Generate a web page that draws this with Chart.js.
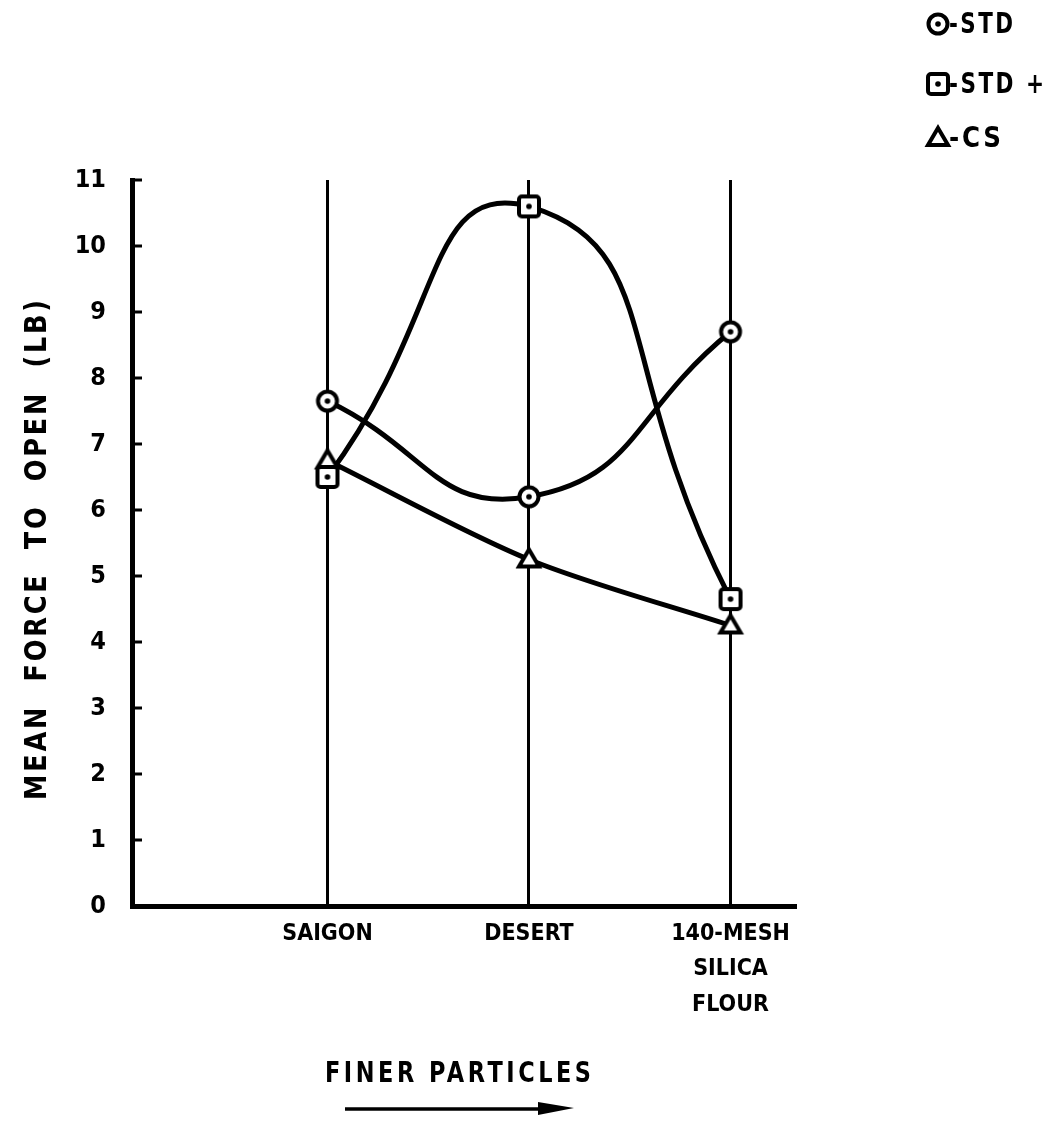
<!DOCTYPE html>
<html>
<head>
<meta charset="utf-8">
<script src="https://cdn.jsdelivr.net/npm/chart.js@4.4.1/dist/chart.umd.min.js"></script>
<style>
  html, body { margin: 0; padding: 0; background: #fff; }
  #wrap { width: 1050px; height: 1123px; }
</style>
</head>
<body>
<div id="wrap"><canvas id="chart"></canvas></div>
<script>
// values
const CATEGORIES = [['SAIGON'], ['DESERT'], ['140-MESH', 'SILICA', 'FLOUR']];
const STD      = [7.65, 6.2, 8.7];
const STD_PLUS = [6.5, 10.6, 4.65];
const CS       = [6.75, 5.25, 4.25];
const Y_TICKS  = [0, 1, 2, 3, 4, 5, 6, 7, 8, 9, 10, 11];
const SERIES_NAMES = ['-STD', '-STD +', '-CS'];
const MARKERS = ['circle', 'square', 'triangle'];

const FONT = "'DejaVu Sans Condensed', 'DejaVu Sans', sans-serif";

function makeMarker(kind) {
    const s = 30;
    const c = document.createElement('canvas');
    c.width = c.height = s;
    const g = c.getContext('2d');
    g.lineWidth = 4;
    g.strokeStyle = '#000';
    g.fillStyle = '#fff';
    g.beginPath();
    if (kind === 'circle') {
        g.arc(s / 2, s / 2, 9.5, 0, Math.PI * 2);
    } else if (kind === 'square') {
        g.roundRect(5, 5, 20, 20, 3);
    } else {
        g.moveTo(s / 2, 5);
        g.lineTo(s - 5, s - 8);
        g.lineTo(5, s - 8);
        g.closePath();
    }
    g.fill();
    g.stroke();
    if (kind !== 'triangle') {
        g.fillStyle = '#000';
        g.beginPath();
        g.arc(s / 2, s / 2, 2.8, 0, Math.PI * 2);
        g.fill();
    }
    return c;
}

const markerImgs = MARKERS.map(makeMarker);
const toPoints = vals => vals.map((v, i) => ({ x: i + 1, y: v }));

function lineSet(vals, tension) {
    return {
        data: toPoints(vals),
        borderColor: '#000',
        borderWidth: 5,
        tension: tension,
        pointRadius: 0,
        order: 2,
    };
}
function pointSet(vals, img) {
    return {
        data: toPoints(vals),
        showLine: false,
        pointStyle: img,
        pointRadius: 11,
        order: 1,
    };
}

// draws text squeezed horizontally so it covers the given width
function narrowText(ctx, text, x, y, size, width, spacing, align) {
    ctx.save();
    ctx.font = 'bold ' + size + 'px ' + FONT;
    ctx.letterSpacing = spacing + 'px';
    ctx.textBaseline = 'middle';
    ctx.textAlign = 'left';
    const w = ctx.measureText(text).width - spacing;
    const sx = width / w;
    const left = align === 'center' ? x - width / 2 : x;
    ctx.translate(left, y);
    ctx.scale(sx, 1);
    ctx.fillText(text, 0, 0);
    ctx.restore();
}

const decorations = {
    id: 'decorations',
    afterDraw(chart) {
        const { ctx, scales: { y }, chartArea } = chart;
        ctx.save();
        ctx.strokeStyle = '#000';
        ctx.fillStyle = '#000';

        // inward tick marks on the y axis
        ctx.lineWidth = 3;
        Y_TICKS.slice(1).forEach(v => {
            const py = y.getPixelForValue(v);
            ctx.beginPath();
            ctx.moveTo(chartArea.left, py);
            ctx.lineTo(chartArea.left + 10, py);
            ctx.stroke();
        });

        // y title
        ctx.save();
        ctx.translate(38, 550);
        ctx.rotate(-Math.PI / 2);
        narrowText(ctx, 'MEAN  FORCE  TO  OPEN  (LB)', 0, 0, 31, 500, 3, 'center');
        ctx.restore();

        // x title and arrow
        narrowText(ctx, 'FINER PARTICLES', 458, 1075, 28, 266, 4, 'center');
        ctx.lineWidth = 3.5;
        ctx.beginPath();
        ctx.moveTo(345, 1109);
        ctx.lineTo(545, 1109);
        ctx.stroke();
        ctx.beginPath();
        ctx.moveTo(538, 1102);
        ctx.lineTo(574, 1108);
        ctx.lineTo(538, 1115);
        ctx.closePath();
        ctx.fill();

        // legend
        const rows = [24, 84, 138];
        const widths = [64, 95, 52];
        SERIES_NAMES.forEach((name, i) => {
            ctx.drawImage(markerImgs[i], 938 - 15, rows[i] - 15);
            narrowText(ctx, name, 949, rows[i] + 1, 29, widths[i], 3, 'left');
        });
        ctx.restore();
    },
};

new Chart(document.getElementById('chart'), {
    type: 'line',
    data: {
        datasets: [
            pointSet(STD, markerImgs[0]),
            pointSet(STD_PLUS, markerImgs[1]),
            pointSet(CS, markerImgs[2]),
            lineSet(STD, 0.5),
            lineSet(STD_PLUS, 0.6),
            lineSet(CS, 0.3),
        ],
    },
    options: {
        responsive: true,
        maintainAspectRatio: false,
        animation: false,
        layout: { padding: { top: 180, right: 255, bottom: 0, left: 0 } },
        plugins: { legend: { display: false }, tooltip: { enabled: false } },
        scales: {
            x: {
                type: 'linear',
                min: 0.03,
                max: 3.32,
                afterBuildTicks: axis => { axis.ticks = CATEGORIES.map((c, i) => ({ value: i + 1 })); },
                afterFit: axis => { axis.height = 217; },
                grid: { color: '#000', lineWidth: 3, drawTicks: false },
                border: { color: '#000', width: 5 },
                ticks: {
                    callback: v => CATEGORIES[v - 1],
                    color: '#000',
                    padding: 10,
                    maxRotation: 0,
                    autoSkip: false,
                    font: { family: FONT, size: 23, weight: 'bold', lineHeight: 1.55 },
                },
            },
            y: {
                min: 0,
                max: 11,
                afterBuildTicks: axis => { axis.ticks = Y_TICKS.map(v => ({ value: v })); },
                afterFit: axis => { axis.width = 132; },
                grid: { display: false, drawTicks: false },
                border: { color: '#000', width: 5 },
                ticks: {
                    color: '#000',
                    padding: 26,
                    font: { family: FONT, size: 25, weight: 'bold' },
                },
            },
        },
    },
    plugins: [decorations],
});
</script>
</body>
</html>
